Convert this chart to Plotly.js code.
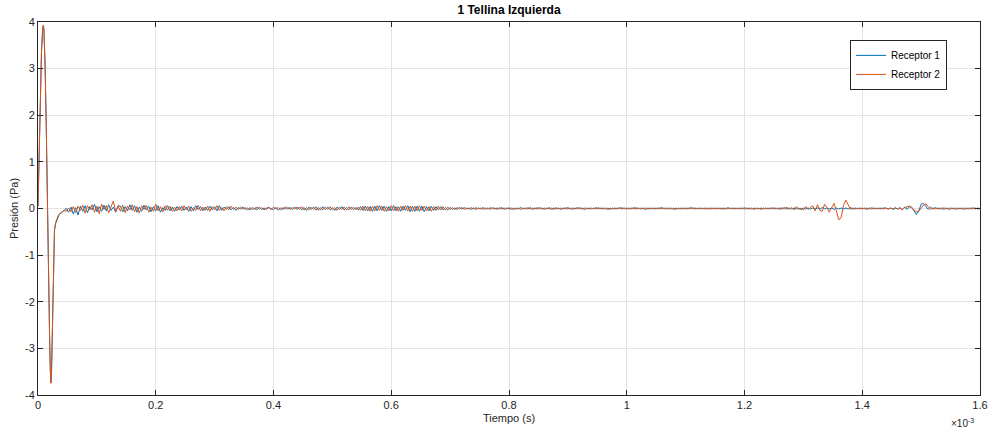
<!DOCTYPE html>
<html>
<head>
<meta charset="utf-8">
<script src="https://cdn.plot.ly/plotly-3.0.1.min.js"></script>
<style>html,body{margin:0;padding:0;background:#fff;}#chart{width:989px;height:430px;}</style>
</head>
<body>
<div id="chart"></div>
<script>
// ---- data (time in ms, i.e. units of 1e-3 s; pressure in Pa) ----
const seriesNames = ['Receptor 1', 'Receptor 2'];

// initial pulse, explicit samples
const pulseT  = [0,.002,.004,.006,.008,.009,.010,.012,.014,.016,.018,.020,.021,.022,.023,.024,.026,.028,.030,.032,.034,.036];
const pulseR1 = [.05,1.33,2.48,3.38,3.86,3.92,3.84,3.08,1.78,-.12,-1.78,-2.98,-3.48,-3.73,-3.48,-2.88,-1.02,-.47,-.32,-.24,-.17,-.13];
const pulseR2 = [.05,1.35,2.5,3.4,3.87,3.93,3.85,3.1,1.8,-.1,-1.8,-3.0,-3.5,-3.75,-3.5,-2.9,-1.0,-.45,-.3,-.22,-.16,-.12];

// sampled record after the pulse: starts at 0.040 ms, one sample every 0.004 ms
const recStart = 0.040;
const recStep = 0.004;
const r1Rec = [
 -.09,-.05,.0,-.08,.03,-.12,.02,-.14,.05,-.06,.06,-.09,.04,-.03,.09,-.07,.04,-.06,.07,-.05,.08,-.04,.03,-.08,.06,
 .05,-.07,.04,-.05,.08,-.04,.06,-.08,.03,-.06,.07,-.03,.05,-.07,.04,-.05,.06,-.08,.02,-.04,.06,-.05,.03,-.06,.04,
 -.03,.05,-.04,.03,-.06,.04,-.05,.06,-.02,.04,-.05,.03,-.04,.05,-.03,.04,-.05,.06,-.04,.03,-.02,.04,-.03,.02,-.04,
 .02,-.01,.03,-.02,.01,-.03,.02,-.01,-.02,.03,-.02,.01,-.02,.03,-.01,-.02,.02,-.03,.01,-.02,.03,-.01,.02,-.02,.03,
 -.02,.03,-.03,.02,-.04,.03,-.02,.03,-.03,.02,-.03,.04,-.02,.03,-.03,.02,-.04,.03,-.02,.04,-.03,.02,-.03,.03,-.02,
 .02,-.03,.04,-.04,.05,-.05,.04,-.06,.05,-.05,.06,-.04,.05,-.06,.04,-.05,.06,-.05,.04,-.06,.05,-.04,.06,-.07,.05,
 -.06,.05,-.06,.05,-.07,.04,-.05,.05,-.04,.04,-.03,.04,-.03,.02,-.03,.02,-.02,.01,-.02,.02,-.01,.02,-.01,.01,-.02,
 .01,-.02,.01,-.01,.02,-.01,.01,-.02,.02,-.01,.01,-.01,.02,-.02,.01,-.01,.01,-.02,.01,-.01,.02,-.01,.01,-.01,.02,
 -.02,.01,-.01,.02,-.01,.01,-.01,.02,-.02,.01,-.01,.01,-.02,.01,-.01,.02,-.01,.01,-.01,.02,-.01,.01,-.02,.01,-.01,
 .01,-.01,.02,-.01,.01,-.01,.01,-.02,.01,-.01,.01,-.01,.02,-.01,.01,-.01,.01,-.01,.02,-.01,.01,-.01,.01,-.02,.01,
 -.01,.01,-.01,.01,-.01,.02,-.01,.01,-.01,.01,-.02,.01,-.01,.01,-.01,.01,-.01,.02,-.01,.01,-.01,.01,-.01,.01,-.01,
 .01,-.01,.01,-.01,.01,-.01,.01,-.01,.02,-.01,.01,-.01,.01,-.01,.01,-.01,.01,-.01,.01,-.02,.01,-.01,.01,-.01,.01,
 -.01,.01,-.01,.01,-.01,.01,-.01,.02,-.01,.01,-.01,.01,-.01,.01,-.02,.01,-.01,.01,-.01,.01,-.01,.01,-.01,.02,-.01,
 .01,-.01,.01,-.02,.01,-.01,.01,-.01,.01,-.01,.02,-.01,.01,-.01,.01,-.01,.01,-.02,.01,-.01,.01,-.01,.01,-.01,.01,
 .01,-.01,.01,-.02,.01,-.01,.02,-.03,.03,-.02,.04,.03,-.06,-.13,-.05,.09,.11,.03,-.02,.03,-.01,.02,-.01,.01,-.01,
 -.01,.01,-.02,.01,-.01,.01,-.01,.01,-.02,.01,-.01,.01,-.01,.01,-.01,0
];
const r2Rec = [
 -.08,-.04,-.06,.01,-.07,.04,-.09,.05,-.04,.07,-.10,.06,-.03,.08,-.08,.05,-.11,.09,-.02,.06,-.09,.04,.16,-.07,.05,
 -.06,.07,-.09,.05,-.03,.08,-.07,.04,-.10,.06,-.02,.07,-.08,.03,-.06,.09,-.05,.04,-.07,.06,-.04,.05,-.06,.03,-.05,
 .04,-.05,.06,-.03,.05,-.06,.02,-.04,.07,-.05,.03,-.04,.05,-.06,.04,-.03,.06,-.04,.02,-.05,.04,-.03,.05,-.02,.03,
 -.02,.03,-.01,.02,-.03,.02,-.02,.01,.03,-.02,.02,-.03,.01,.02,-.02,.03,-.01,.02,-.03,.02,-.01,.03,-.02,.02,-.01,
 .03,-.02,.04,-.03,.02,-.03,.03,-.02,.04,-.04,.02,-.03,.03,-.02,.04,-.03,.02,-.04,.03,-.02,.03,-.03,.04,-.02,.03,
 -.03,.03,-.04,.05,-.05,.04,-.06,.05,-.05,.06,-.04,.05,-.06,.04,-.05,.06,-.05,.04,-.06,.05,-.04,.06,-.05,.05,-.06,
 .05,-.05,.06,-.04,.05,-.05,.04,-.06,.04,-.04,.05,-.03,.04,-.03,.03,-.02,.02,-.02,.02,-.01,.02,-.02,.01,-.01,.02,
 -.01,.02,-.01,.01,-.02,.01,-.01,.02,-.01,.01,-.02,.02,-.01,.01,-.01,.02,-.02,.01,-.01,.01,-.02,.01,-.01,.02,-.01,
 .01,-.01,.02,-.01,.01,-.02,.01,-.01,.01,-.02,.02,-.01,.01,-.01,.02,-.01,.01,-.02,.01,-.01,.02,-.01,.01,-.01,.01,
 -.01,.01,-.01,.02,-.01,.01,-.01,.01,-.02,.01,-.01,.01,-.01,.02,-.01,.01,-.01,.01,-.01,.02,-.01,.01,-.01,.01,-.01,
 .01,-.01,.01,-.01,.02,-.01,.01,-.01,.01,-.01,.01,-.02,.01,-.01,.01,-.01,.01,-.01,.02,-.01,.01,-.01,.01,-.01,.01,
 -.01,.01,-.01,.01,-.01,.01,-.02,.01,-.01,.01,-.01,.01,-.01,.01,-.01,.02,-.01,.01,-.01,.01,-.01,.01,-.02,.01,-.01,
 .01,-.01,.02,-.01,.01,-.02,.02,-.01,.03,-.02,.02,-.03,.04,-.02,.01,-.03,.04,-.02,.02,.06,-.05,.08,-.04,-.06,.09,
 .02,-.08,.03,.11,-.05,-.24,-.20,.06,.18,.08,-.02,.01,-.01,.01,-.01,.01,-.01,.01,-.01,.02,-.01,.01,-.01,.01,-.01,
 .01,-.01,.01,-.01,.02,-.01,.01,-.02,.02,.04,.05,.01,-.03,-.07,-.06,.0,.07,.10,.04,-.02,.01,-.01,.01,-.01,.01,
 .01,-.01,.01,-.01,.01,-.02,.01,-.01,.01,-.01,.01,-.01,.02,-.01,.01,0
];

const xTickVals = [0, 0.2, 0.4, 0.6, 0.8, 1, 1.2, 1.4, 1.6];
const xTickText = ['0', '0.2', '0.4', '0.6', '0.8', '1', '1.2', '1.4', '1.6'];
const yTickVals = [-4, -3, -2, -1, 0, 1, 2, 3, 4];
const yTickText = ['-4', '-3', '-2', '-1', '0', '1', '2', '3', '4'];

// ---- build traces ----
function buildTime(n) {
  const t = [];
  for (let i = 0; i < n; i++) t.push(+(recStart + i * recStep).toFixed(4));
  return t;
}
const t1 = pulseT.concat(buildTime(r1Rec.length));
const y1 = pulseR1.concat(r1Rec);
const t2 = pulseT.concat(buildTime(r2Rec.length));
const y2 = pulseR2.concat(r2Rec);

const FONT = 'Liberation Sans, Arial, Helvetica, sans-serif';
const AX = '#262626';
const GRID = '#e3e3e3';

const traces = [
  {x: t1, y: y1, type: 'scatter', mode: 'lines', name: seriesNames[0],
   line: {color: '#0072BD', width: 1}},
  {x: t2, y: y2, type: 'scatter', mode: 'lines', name: seriesNames[1],
   line: {color: '#D95319', width: 1}}
];

const layout = {
  width: 989, height: 430,
  margin: {l: 38, r: 9, t: 22, b: 35},
  paper_bgcolor: '#fff', plot_bgcolor: '#fff',
  font: {family: FONT, size: 11, color: AX},
  title: {text: '<b>1 Tellina Izquierda</b>', font: {family: FONT, size: 12, color: '#000'},
          x: 0.5, xref: 'paper', xanchor: 'center', y: 0.977, yref: 'container', yanchor: 'middle'},
  xaxis: {
    range: [0, 1.6], tickvals: xTickVals, ticktext: xTickText,
    ticks: 'inside', ticklen: 5, tickcolor: AX, tickwidth: 1,
    showline: true, linecolor: AX, linewidth: 1, mirror: 'ticks',
    showgrid: true, gridcolor: GRID, gridwidth: 1, zeroline: false,
    tickfont: {family: FONT, size: 11, color: AX},
    title: {text: 'Tiempo (s)', font: {family: FONT, size: 11, color: AX}, standoff: 4},
    automargin: false
  },
  yaxis: {
    range: [-4, 4], tickvals: yTickVals, ticktext: yTickText,
    ticks: 'inside', ticklen: 5, tickcolor: AX, tickwidth: 1,
    showline: true, linecolor: AX, linewidth: 1, mirror: 'ticks',
    showgrid: true, gridcolor: GRID, gridwidth: 1, zeroline: false,
    tickfont: {family: FONT, size: 11, color: AX},
    title: {text: 'Presión (Pa)', font: {family: FONT, size: 11, color: AX}, standoff: 4},
    automargin: false
  },
  showlegend: true,
  legend: {
    x: 0.862, y: 0.952, xanchor: 'left', yanchor: 'top',
    bgcolor: '#fff', bordercolor: AX, borderwidth: 1,
    font: {family: FONT, size: 10, color: '#000'},
    itemwidth: 30, tracegroupgap: 0
  },
  annotations: [
    {text: '×10<sup>-3</sup>', xref: 'paper', yref: 'paper', x: 0.981, y: -0.075,
     xanchor: 'center', yanchor: 'middle', showarrow: false,
     font: {family: FONT, size: 10, color: AX}}
  ]
};

Plotly.newPlot('chart', traces, layout, {displayModeBar: false, staticPlot: true});
</script>
</body>
</html>
